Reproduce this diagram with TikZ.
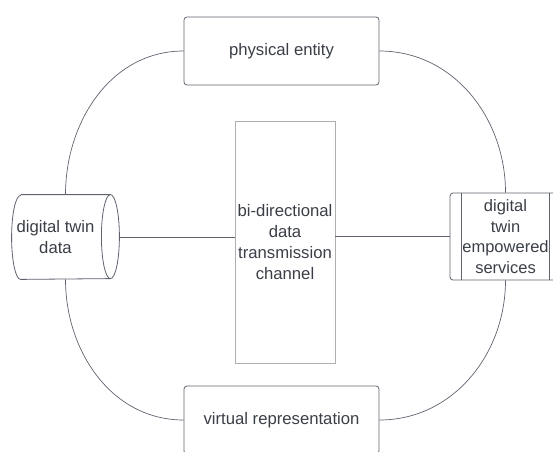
\documentclass[tikz,border=0pt]{standalone}
\usepackage{fontspec}
\setmainfont{Liberation Sans}

\definecolor{linegray}{RGB}{95,99,110}
\definecolor{textgray}{RGB}{58,62,70}
\definecolor{edgegray}{RGB}{175,175,178}

\begin{document}
\begin{tikzpicture}[x=1pt,y=1pt,
    block/.style = {draw = linegray, rounded corners = 3pt, line width = 0.8pt, inner sep = 0pt,
                    text = textgray, align = center, font = \fontsize{16.7}{21}\selectfont},
    link/.style = {draw = linegray, line width = 0.7pt}]
  \clip (0,0) rectangle (553,451);

  \node [block, minimum width = 195pt, minimum height = 68pt] (entity) at (281.5,400) {physical entity};
  \node [block, minimum width = 195pt, minimum height = 68pt] (virtual) at (281.5,31) {virtual representation};
  \node [block, sharp corners, draw = edgegray, minimum width = 100pt, minimum height = 242pt] (channel) at (285,209)
    {bi-directional\\data\\transmission\\channel};

  % cylinder
  \node [block, draw = none, minimum width = 107pt, minimum height = 84pt] (data) at (65.5,214) {};
    \draw [link, line width = 0.8pt] ([xshift = 9pt]data.north west) -- ([xshift = -9pt]data.north east)
      arc (90:-90:9pt and 42pt) -- ([xshift = 9pt]data.south west) arc (270:90:9pt and 42pt);
    \draw [link, line width = 0.8pt] ([xshift = -9pt]data.north east) arc (90:270:9pt and 42pt);
    \node [block, draw = none] (datatext) at ([xshift = -10pt]data.center) {digital twin\\data};

  \node [block, minimum width = 111pt, minimum height = 87pt, text width = 87pt,
         font = \fontsize{16.5}{20.5}\selectfont] (services) at (505.5,214.5)
    {digital\\twin\\empowered\\services};
    \draw [link] ([xshift = 12pt]services.north west) -- ([xshift = 12pt]services.south west);
    \draw [link] ([xshift = -12pt]services.north east) -- ([xshift = -12pt]services.south east);

  \draw [link] (data.east) -- (data.east -| channel.west);
  \draw [link] (services.west) -- (services.west -| channel.east);

  \draw [link] (data.north) to [out = 90, in = 180] (entity.west);
  \draw [link] (entity.east) to [out = 0, in = 90] (services.north);
  \draw [link] (data.south) to [out = -90, in = 180] (virtual.west);
  \draw [link] (virtual.east) to [out = 0, in = -90] (services.south);
\end{tikzpicture}
\end{document}
